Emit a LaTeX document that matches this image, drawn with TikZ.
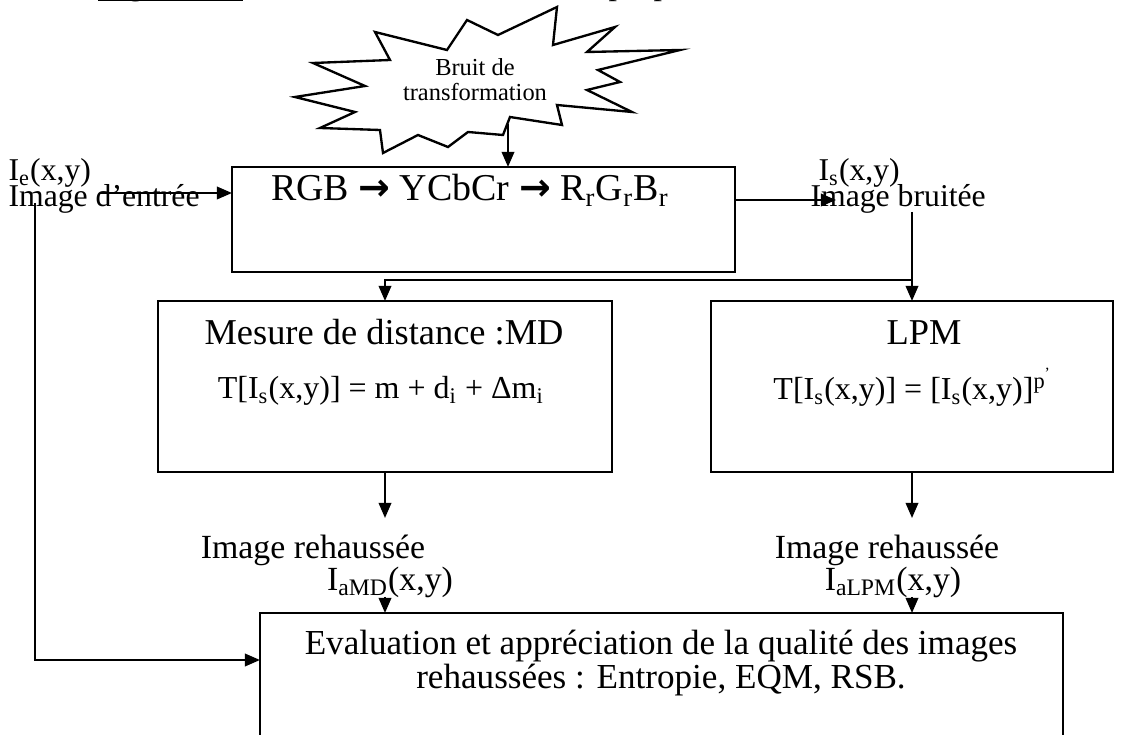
\documentclass[tikz,border=0pt]{standalone}
\usepackage{fontspec}
\setmainfont{Liberation Serif}
\newfontfamily\arrowfont{DejaVu Sans}
\usetikzlibrary{arrows.meta,calc}
\newcommand{\pxu}{0.3846pt}
\newcommand{\myarr}{{\arrowfont\bfseries →}}
\newcommand{\myul}[1]{\setbox0\hbox{#1}\rlap{\rule[-2.2pt]{\wd0}{1pt}}\box0}
\begin{document}
\begin{tikzpicture}[x=0.3846pt,y=-0.3846pt,
  ln/.style={line width=0.8pt},
  conn/.style={line width=0.8pt,-{Triangle[length=5.8pt,width=4.8pt]}},
  boxst/.style={draw,line width=0.8pt,inner sep=0pt,outer sep=0pt},
  lbl/.style={inner sep=0pt,font=\fontsize{13}{13}\selectfont},
  iolbl/.style={inner sep=0pt,font=\fontsize{12.2}{12}\selectfont},
  boxtitle/.style={inner sep=0pt,font=\fontsize{14}{14}\selectfont},
  formula/.style={inner sep=0pt,font=\fontsize{12.3}{13}\selectfont},
]
\useasboundingbox (0,0) rectangle (1129,735);
\clip (0,0) rectangle (1129,735);

% title (cut off at the top)
\node[anchor=base west,inner sep=0pt,font=\fontsize{13}{15}\selectfont] (title) at (97,-5)
  {\myul{\textbf{Figure 3.2}} : Modèle de rehaussement proposé};

% starburst
\draw[line width=0.9pt,line join=miter]
  (375,32) -- (447,50) -- (467,20) -- (498,35) -- (557,7) -- (553,45) -- (615,27)
  -- (587,52) -- (680,50) -- (598,70) -- (620,82) -- (587,90) -- (632,112)
  -- (557,105) -- (562,125) -- (510,117) -- (503,135) -- (468,132) -- (448,147)
  -- (418,135) -- (383,153) -- (380,130) -- (320,128) -- (355,112) -- (295,97)
  -- (365,86) -- (313,63) -- (390,60) -- cycle;
\node[align=center,inner sep=0pt,font=\fontsize{9.4}{9.6}\selectfont] (noise) at (475,80)
  {Bruit de\\transformation};
\coordinate (sbout) at (508,124);

% boxes
\node[boxst,minimum width={503*\pxu},minimum height={105*\pxu}] (rgb) at (483.5,219.5) {};
\node[inner sep=0pt,font=\fontsize{14.6}{14}\selectfont,anchor=base] (rgbt) at (470,201)
  {RGB \myarr{} YCbCr \myarr{} R\textsubscript{r}G\textsubscript{r}B\textsubscript{r}};

\node[boxst,minimum width={454*\pxu},minimum height={171*\pxu}] (md) at (385,386.5) {};
\node[boxtitle,anchor=base] (mdt) at (384,345) {Mesure de distance :MD};
\node[formula,anchor=base] (mdf) at (381,399)
  {T[I\textsubscript{s}(x,y)] = m + d\textsubscript{i} + Δm\textsubscript{i}};

\node[boxst,minimum width={402*\pxu},minimum height={171*\pxu}] (lpm) at (912,386.5) {};
\node[boxtitle,anchor=base] (lpmt) at (924,345) {LPM};
\node[formula,anchor=base] (lpmf) at (913,400)
  {T[I\textsubscript{s}(x,y)] = [I\textsubscript{s}(x,y)]\textsuperscript{p\textsuperscript{’}}};

\node[boxst,minimum width={803*\pxu},minimum height={147*\pxu}] (ev) at (661.5,686.5) {};
\node[align=center,inner sep=0pt,font=\fontsize{13.5}{13}\selectfont] (evt) at (661,663)
  {Evaluation et appréciation de la qualité des images\\rehaussées : Entropie, EQM, RSB.};

% labels
\node[iolbl,anchor=base west] (ie) at (8,181) {I\textsubscript{e}(x,y)};
\node[iolbl,anchor=base west] (ient) at (8,207) {Image d’entrée};
\node[iolbl,anchor=base west] (is) at (818,181) {I\textsubscript{s}(x,y)};
\node[iolbl,anchor=base west] (isb) at (810,207) {Image bruitée};
\node[lbl,anchor=base] (mdimg) at (313,559) {Image rehaussée};
\node[lbl,anchor=base] (mdia) at (390,591) {I\textsubscript{aMD}(x,y)};
\node[lbl,anchor=base] (lpmimg) at (887,559) {Image rehaussée};
\node[lbl,anchor=base] (lpmia) at (893,591) {I\textsubscript{aLPM}(x,y)};

% connectors
\draw[conn] (sbout) -- (sbout |- rgb.north);
\coordinate (inA) at (100,193);
\draw[conn] (inA) -- (inA -| rgb.west);
\coordinate (inB) at (35,203);
\coordinate (inC) at (35,660);
\draw[conn] (inB) -- (inC) -- (inC -| ev.west);
\coordinate (outA) at (836,200);
\draw[conn] (outA -| rgb.east) -- (outA);
\coordinate (outB) at (912,212);
\draw[conn] (outB) -- (lpm.north);
\coordinate (br) at (912,280);
\draw[conn] (br) -| (md.north);
\coordinate (mdend) at (385,518);
\draw[conn] (md.south) -- (mdend);
\coordinate (lpmend) at (912,518);
\draw[conn] (lpm.south) -- (lpmend);
\coordinate (mdin) at (385,597);
\draw[conn] (mdin) -- (mdin |- ev.north);
\coordinate (lpmin) at (912,597);
\draw[conn] (lpmin) -- (lpmin |- ev.north);
\end{tikzpicture}
\end{document}
